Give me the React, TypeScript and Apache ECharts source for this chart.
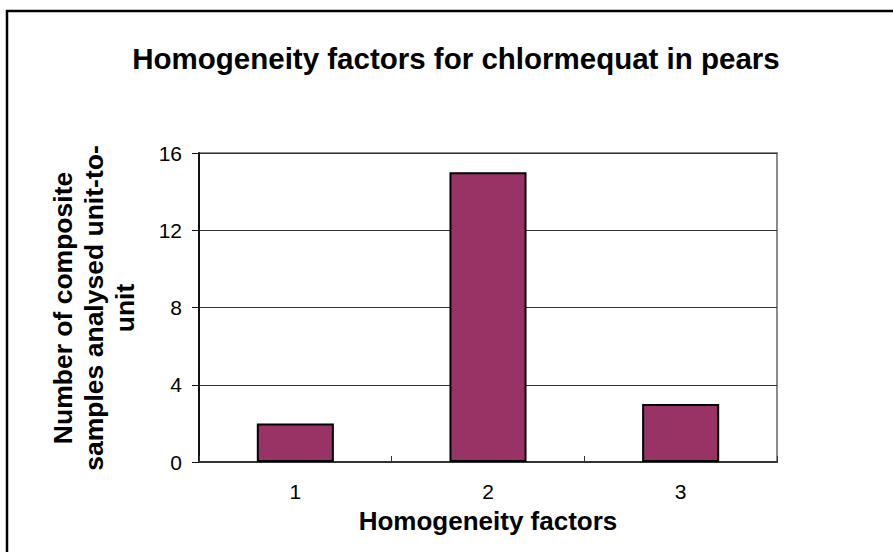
import React, { useEffect, useRef } from "react";
import * as echarts from "echarts";

const categories = ["1", "2", "3"];
const values = [2, 15, 3];
const yTicks = { min: 0, max: 16, interval: 4 };
const titleText = "Homogeneity factors for chlormequat in pears";
const xTitle = "Homogeneity factors";
const yTitleLines = ["Number of composite", "samples analysed unit-to-", "unit"];

const FONT = '"Liberation Sans", Arial, sans-serif';

export default function App() {
  const ref = useRef<HTMLDivElement>(null);
  useEffect(() => {
    document.body.style.margin = "0";
    const chart = echarts.init(ref.current!, null, { renderer: "svg" });
    const yCenters = [63, 94, 125];
    chart.setOption({
      animation: false,
      backgroundColor: "#ffffff",
      grid: {
        left: 199,
        top: 153,
        right: 893 - 777,
        bottom: 552 - 462,
        show: true,
        borderColor: "#8c8c8c",
        borderWidth: 2,
        backgroundColor: "#ffffff",
      },
      xAxis: {
        type: "category",
        data: categories,
        boundaryGap: true,
        axisLine: { show: true, lineStyle: { color: "#333", width: 2 } },
        axisTick: { show: true, inside: true, length: 6, lineStyle: { color: "#333", width: 1 } },
        axisLabel: { color: "#000", fontFamily: FONT, fontSize: 21, margin: 19 },
        splitLine: { show: false },
      },
      yAxis: {
        type: "value",
        min: yTicks.min,
        max: yTicks.max,
        interval: yTicks.interval,
        axisLine: { show: true, lineStyle: { color: "#111", width: 2 } },
        axisTick: { show: true, inside: false, length: 7, lineStyle: { color: "#111", width: 1 } },
        axisLabel: { color: "#000", fontFamily: FONT, fontSize: 21, margin: 17 },
        splitLine: { show: true, lineStyle: { color: "#333", width: 1 } },
      },
      series: [
        {
          type: "bar",
          data: values,
          barWidth: "40%",
          itemStyle: { color: "#993366", borderColor: "#000", borderWidth: 2 },
        },
      ],
      graphic: [
        {
          type: "rect",
          shape: { x: 7, y: 11, width: 2000, height: 2000 },
          style: { fill: "none", stroke: "#000", lineWidth: 2.5 },
          silent: true,
          z: 100,
        },
        {
          type: "text",
          x: 456,
          y: 58,
          style: {
            text: titleText,
            fontFamily: FONT,
            fontSize: 29.5,
            fontWeight: "bold",
            fill: "#000",
            align: "center",
            verticalAlign: "middle",
          },
        },
        {
          type: "text",
          x: 488,
          y: 521,
          style: {
            text: xTitle,
            fontFamily: FONT,
            fontSize: 26,
            fontWeight: "bold",
            fill: "#000",
            align: "center",
            verticalAlign: "middle",
          },
        },
        ...yTitleLines.map((t, i) => ({
          type: "text",
          x: yCenters[i],
          y: 308,
          rotation: Math.PI / 2,
          style: {
            text: t,
            fontFamily: FONT,
            fontSize: 26.5,
            fontWeight: "bold",
            fill: "#000",
            align: "center",
            verticalAlign: "middle",
          },
        })),
      ],
    });
    return () => chart.dispose();
  }, []);
  return (
    <div
      ref={ref}
      style={{ width: 893, height: 552, position: "absolute", left: 0, top: 0, overflow: "hidden" }}
    />
  );
}
